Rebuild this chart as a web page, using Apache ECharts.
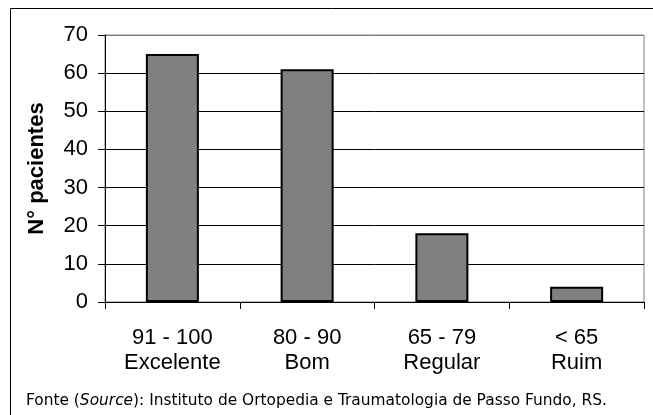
<!DOCTYPE html>
<html>
<head>
<meta charset="utf-8">
<script src="https://cdn.jsdelivr.net/npm/echarts@6/dist/echarts.min.js"></script>
<style>html,body{margin:0;padding:0;background:#fff;}#c{width:653px;height:415px;}</style>
</head>
<body>
<div id="c"></div>
<script>
var categories = ['91 - 100\nExcelente', '80 - 90\nBom', '65 - 79\nRegular', '< 65\nRuim'];
var values = [65, 61, 18, 4];
var yTicks = [0, 10, 20, 30, 40, 50, 60, 70];
var yName = 'N° pacientes';
var footerPre = 'Fonte (';
var footerItalic = 'Source';
var footerPost = '): Instituto de Ortopedia e Traumatologia de Passo Fundo, RS.';

var chart = echarts.init(document.getElementById('c'), null, {renderer: 'canvas'});
var font = '"Liberation Sans", Arial, sans-serif';
var ffont = '"DejaVu Sans", Verdana, sans-serif';
chart.setOption({
  animation: false,
  backgroundColor: '#fff',
  grid: {left: 105, right: 9, top: 35, bottom: 113, show: true, borderColor: '#808080', borderWidth: 1, backgroundColor: 'transparent'},
  xAxis: {
    type: 'category', data: categories,
    axisLine: {lineStyle: {color: '#000', width: 1}},
    axisTick: {show: true, length: 7, lineStyle: {color: '#000'}},
    axisLabel: {fontFamily: font, fontSize: 22, color: '#000', lineHeight: 25, margin: 23}
  },
  yAxis: {
    type: 'value', min: yTicks[0], max: yTicks[yTicks.length - 1], interval: 10,
    name: yName, nameLocation: 'middle', nameGap: 57,
    nameTextStyle: {fontFamily: font, fontSize: 22, fontWeight: 'bold', color: '#000'},
    axisLine: {show: true, lineStyle: {color: '#000', width: 1}},
    axisTick: {show: true, length: 7, lineStyle: {color: '#000'}},
    axisLabel: {fontFamily: font, fontSize: 22, color: '#000', margin: 17},
    splitLine: {show: true, lineStyle: {color: ['#808080', '#000', '#000', '#000', '#000', '#000', '#000', '#808080'], width: 1}}
  },
  series: [{
    type: 'bar', data: values, barWidth: 53,
    itemStyle: {color: '#808080', borderColor: '#000', borderWidth: 2}
  }],
  graphic: [
    {type: 'rect', shape: {x: 10.5, y: 8.5, width: 700, height: 500}, style: {fill: 'none', stroke: '#000', lineWidth: 1}, z: -1},
    {type: 'text', x: 26, y: 401, style: {
      text: '{n|' + footerPre + '}{i|' + footerItalic + '}{n|' + footerPost + '}',
      verticalAlign: 'middle',
      rich: {
        n: {fontFamily: ffont, fontSize: 15.4, fill: '#000'},
        i: {fontFamily: ffont, fontSize: 15.4, fontStyle: 'italic', fill: '#000'}
      }
    }}
  ]
});
</script>
</body>
</html>
